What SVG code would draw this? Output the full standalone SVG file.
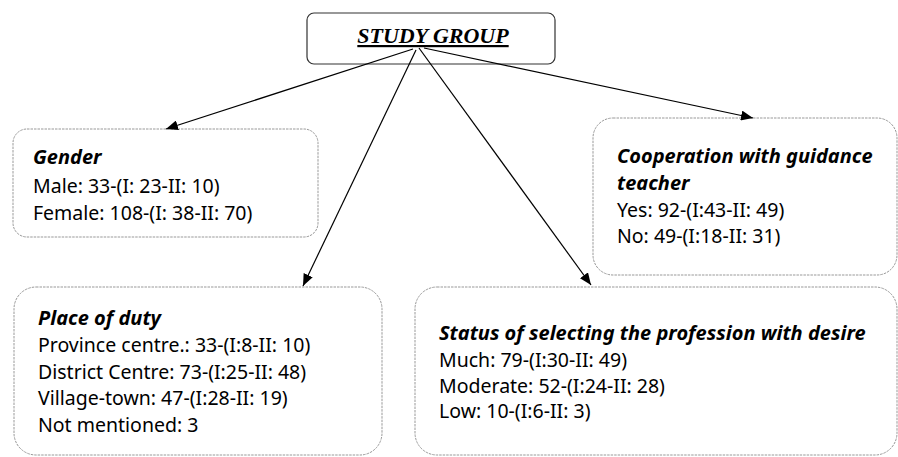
<svg xmlns="http://www.w3.org/2000/svg" width="898" height="457" viewBox="0 0 898 457">
<defs>
<marker id="ah" markerWidth="12" markerHeight="10" refX="12" refY="5" orient="auto" markerUnits="userSpaceOnUse">
<path d="M0,0 L12,5 L0,10 Z" fill="#000"/>
</marker>
<style>
.box{fill:#fff;stroke:#999;stroke-width:1;stroke-dasharray:2.5,1}
.top{fill:#fff;stroke:#333;stroke-width:1.2}
.ttl{font-family:"Noto Sans","Open Sans",sans-serif;font-weight:bold;font-style:italic;font-size:20px;fill:#000}
.txt{font-family:"Noto Sans","Open Sans",sans-serif;font-size:19.5px;fill:#000}
.hd{font-family:"Liberation Serif",serif;font-weight:bold;font-style:italic;font-size:22px;fill:#000;text-decoration:underline}
.con{stroke:#000;stroke-width:1.2;fill:none;marker-end:url(#ah)}
</style>
</defs>
<rect width="898" height="457" fill="#fff"/>
<g id="study-group">
<rect class="top" x="307" y="13" width="248" height="51" rx="7"/>
<text class="hd" x="433" y="43" text-anchor="middle">STUDY GROUP</text>
</g>
<g id="gender">
<rect class="box" x="13" y="129" width="305" height="108" rx="14"/>
<text class="ttl" x="33" y="164">Gender</text>
<text class="txt" x="33" y="193">Male: 33-(I: 23-II: 10)</text>
<text class="txt" x="33" y="220">Female: 108-(I: 38-II: 70)</text>
</g>
<g id="cooperation">
<rect class="box" x="593" y="118" width="304" height="157" rx="20"/>
<text class="ttl" x="617" y="163">Cooperation with guidance</text>
<text class="ttl" x="617" y="190">teacher</text>
<text class="txt" x="617" y="217">Yes: 92-(I:43-II: 49)</text>
<text class="txt" x="617" y="243">No: 49-(I:18-II: 31)</text>
</g>
<g id="place-of-duty">
<rect class="box" x="14" y="287" width="368" height="168" rx="22"/>
<text class="ttl" x="38" y="325">Place of duty</text>
<text class="txt" x="38" y="352">Province centre.: 33-(I:8-II: 10)</text>
<text class="txt" x="38" y="379">District Centre: 73-(I:25-II: 48)</text>
<text class="txt" x="38" y="405">Village-town: 47-(I:28-II: 19)</text>
<text class="txt" x="38" y="432">Not mentioned: 3</text>
</g>
<g id="status">
<rect class="box" x="415" y="287" width="482" height="168" rx="22"/>
<text class="ttl" x="439" y="340">Status of selecting the profession with desire</text>
<text class="txt" x="439" y="367">Much: 79-(I:30-II: 49)</text>
<text class="txt" x="439" y="393">Moderate: 52-(I:24-II: 28)</text>
<text class="txt" x="439" y="418">Low: 10-(I:6-II: 3)</text>
</g>
<g id="connectors">
<line class="con" x1="413" y1="49" x2="166" y2="129"/>
<line class="con" x1="416" y1="50" x2="303" y2="286"/>
<line class="con" x1="419" y1="48" x2="591" y2="285"/>
<line class="con" x1="424" y1="48" x2="753" y2="118"/>
</g>
</svg>
